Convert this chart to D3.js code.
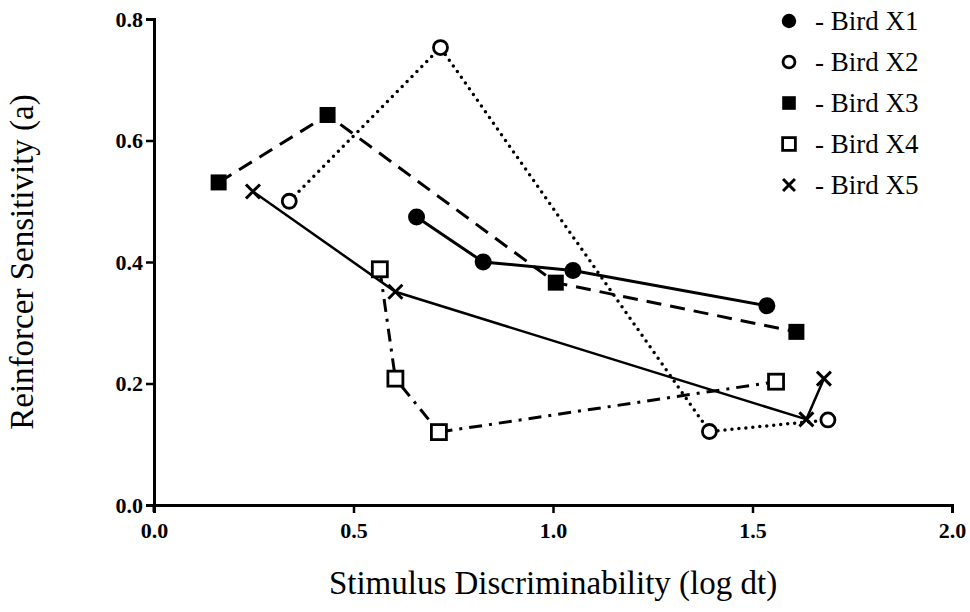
<!DOCTYPE html>
<html>
<head>
<meta charset="utf-8">
<script src="https://cdn.jsdelivr.net/npm/d3@7"></script>
<style>
  body { margin: 0; background: #fff; }
  text { font-family: "Liberation Serif", "Times New Roman", serif; fill: #000; }
</style>
</head>
<body>
<script>
const width = 970;
const height = 612;

// data
const birds = ['Bird X1', 'Bird X2', 'Bird X3', 'Bird X4', 'Bird X5'];
const x1 = [[0.658, 0.474], [0.825, 0.400], [1.050, 0.386], [1.536, 0.328]];
const x2 = [[0.339, 0.500], [0.718, 0.753], [1.392, 0.121], [1.689, 0.140]];
const x3 = [[0.162, 0.531], [0.435, 0.642], [1.007, 0.366], [1.610, 0.285]];
const x4 = [[0.566, 0.388], [0.605, 0.208], [0.714, 0.120], [1.559, 0.203]];
const x5 = [[0.248, 0.516], [0.605, 0.351], [1.635, 0.141], [1.679, 0.208]];
const xTicks = [0, 0.5, 1.0, 1.5, 2.0];
const yTicks = [0, 0.2, 0.4, 0.6, 0.8];

const series = [
  { name: birds[0], pts: x1, marker: 'dot',    dash: null,          lw: 3 },
  { name: birds[1], pts: x2, marker: 'circle', dash: '0,7',         lw: 3.5 },
  { name: birds[2], pts: x3, marker: 'fsq',    dash: '15,9',        lw: 3 },
  { name: birds[3], pts: x4, marker: 'osq',    dash: '13,7,3,7',    lw: 3 },
  { name: birds[4], pts: x5, marker: 'cross',  dash: null,          lw: 2.5 }
];

const svg = d3.select('body')
  .append('svg')
  .attr('width', width)
  .attr('height', height);

const x = d3.scaleLinear().domain([0, 2]).range([154, 952]);
const y = d3.scaleLinear().domain([0, 0.8]).range([505, 19]);

// axes
const xAxis = svg.append('g')
  .attr('transform', 'translate(0,505)')
  .call(d3.axisBottom(x).tickValues(xTicks).tickFormat(d3.format('.1f')).tickSizeOuter(0).tickSize(8));
const yAxis = svg.append('g')
  .attr('transform', 'translate(154,0)')
  .call(d3.axisLeft(y).tickValues(yTicks).tickFormat(d3.format('.1f')).tickSizeOuter(0).tickSize(8));

[xAxis, yAxis].forEach(a => {
  a.attr('font-size', 22).attr('font-family', '"Liberation Serif", serif').attr('font-weight', 'bold');
  a.select('.domain').attr('stroke', '#000').attr('stroke-width', 3);
  a.selectAll('.tick line').attr('stroke', '#000').attr('stroke-width', 2.5);
  a.selectAll('.tick text').attr('fill', '#000').style('font-size', '22px');
});
xAxis.selectAll('.tick text').attr('y', 15).attr('dy', '0.8em');
yAxis.selectAll('.tick text').attr('x', -11);
// y axis runs a little below the x axis
svg.append('line').attr('x1', 154).attr('x2', 154).attr('y1', 505).attr('y2', 512)
  .attr('stroke', '#000').attr('stroke-width', 3);

// axis titles
svg.append('text')
  .attr('x', x(1)).attr('y', 594)
  .attr('text-anchor', 'middle')
  .style('font-size', '33px')
  .text('Stimulus Discriminability (log dt)');
svg.append('text')
  .attr('transform', 'translate(33,' + y(0.4) + ') rotate(-90)')
  .attr('text-anchor', 'middle')
  .style('font-size', '33px')
  .text('Reinforcer Sensitivity (a)');

const line = d3.line().x(d => x(d[0])).y(d => y(d[1]));

const plot = svg.append('g');
series.forEach(s => {
  plot.append('path')
    .attr('d', line(s.pts))
    .attr('fill', 'none')
    .attr('stroke', '#000')
    .attr('stroke-width', s.lw)
    .attr('stroke-linecap', s.marker === 'circle' ? 'round' : 'butt')
    .attr('stroke-dasharray', s.dash);
});

function drawMarker(g, type, cx, cy, scale) {
  const k = scale || 1;
  if (type === 'dot') {
    g.append('circle').attr('cx', cx).attr('cy', cy).attr('r', 8.5 * k).attr('fill', '#000');
  } else if (type === 'circle') {
    g.append('circle').attr('cx', cx).attr('cy', cy).attr('r', 7 * k)
      .attr('fill', '#fff').attr('stroke', '#000').attr('stroke-width', 2.8);
  } else if (type === 'fsq') {
    const h = 8 * k;
    g.append('rect').attr('x', cx - h).attr('y', cy - h).attr('width', 2 * h).attr('height', 2 * h)
      .attr('fill', '#000');
  } else if (type === 'osq') {
    const h = 7.5 * k;
    g.append('rect').attr('x', cx - h).attr('y', cy - h).attr('width', 2 * h).attr('height', 2 * h)
      .attr('fill', '#fff').attr('stroke', '#000').attr('stroke-width', 2.8);
  } else if (type === 'cross') {
    const h = 7 * k;
    g.append('path')
      .attr('d', `M${cx - h},${cy - h}L${cx + h},${cy + h}M${cx - h},${cy + h}L${cx + h},${cy - h}`)
      .attr('stroke', '#000').attr('stroke-width', 3);
  }
}

series.forEach(s => {
  s.pts.forEach(p => drawMarker(plot, s.marker, x(p[0]), y(p[1])));
});

// legend
const legend = svg.append('g');
series.forEach((s, i) => {
  const ly = 21 + i * 41;
  drawMarker(legend, s.marker, 789, ly, 0.85);
  legend.append('text')
    .attr('x', 815).attr('y', ly + 9)
    .style('font-size', '27px')
    .text('- ' + s.name);
});
</script>
</body>
</html>
